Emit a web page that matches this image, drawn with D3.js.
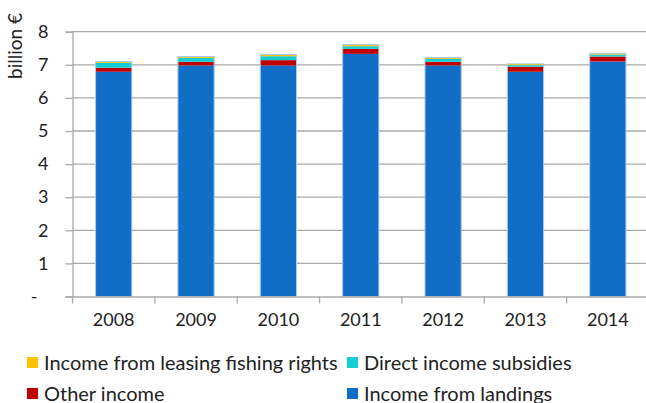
<!DOCTYPE html>
<html>
<head>
<meta charset="utf-8">
<script src="https://cdn.jsdelivr.net/npm/d3@7"></script>
<style>
  body { margin: 0; background: #fff; }
  text { font-family: Lato, "Open Sans", sans-serif; fill: #222; }
</style>
</head>
<body>
<svg width="646" height="403"></svg>
<script>
const years = ['2008', '2009', '2010', '2011', '2012', '2013', '2014']
const landings = [6.79, 6.98, 6.98, 7.33, 6.98, 6.79, 7.10]
const other = [0.12, 0.11, 0.16, 0.15, 0.11, 0.15, 0.15]
const subsidies = [0.15, 0.12, 0.12, 0.08, 0.09, 0.05, 0.06]
const leasing = [0.04, 0.04, 0.05, 0.05, 0.04, 0.04, 0.04]
const yTicks = [0, 1, 2, 3, 4, 5, 6, 7, 8]

const seriesNames = ['Income from landings', 'Other income', 'Direct income subsidies', 'Income from leasing fishing rights']
const colors = ['#106ec6', '#c00000', '#17cdd4', '#ffc000']

const table = years.map((y, i) => ({
    year: y,
    [seriesNames[0]]: landings[i],
    [seriesNames[1]]: other[i],
    [seriesNames[2]]: subsidies[i],
    [seriesNames[3]]: leasing[i]
}))

const svg = d3.select('svg')
const axisColor = '#a9a9a9'

const x = d3.scaleBand()
    .domain(years)
    .range([72.5, 649])
    .paddingInner(0.56)
    .paddingOuter(0.28)

const y = d3.scaleLinear()
    .domain([0, 8])
    .range([296.5, 31.7])

// gridlines
svg.append('g')
    .selectAll('line')
    .data(yTicks.slice(1))
    .enter().append('line')
    .attr('x1', 72.5).attr('x2', 646)
    .attr('y1', d => y(d)).attr('y2', d => y(d))
    .attr('stroke', axisColor)
    .attr('stroke-width', 1.3)

const stack = d3.stack().keys(seriesNames)(table)

svg.append('g')
    .selectAll('g')
    .data(stack)
    .enter().append('g')
    .attr('fill', (d, i) => colors[i])
    .selectAll('rect')
    .data(d => d)
    .enter().append('rect')
    .attr('x', d => x(d.data.year))
    .attr('width', x.bandwidth())
    .attr('y', d => y(d[1]))
    .attr('height', d => y(d[0]) - y(d[1]))

// light bar edge
const totals = years.map((d, i) => landings[i] + other[i] + subsidies[i] + leasing[i])
svg.append('g')
    .selectAll('rect')
    .data(years)
    .enter().append('rect')
    .attr('x', d => x(d))
    .attr('width', x.bandwidth())
    .attr('y', (d, i) => y(totals[i]))
    .attr('height', (d, i) => y(0) - y(totals[i]))
    .attr('fill', 'none')
    .attr('stroke', '#a9cbee')
    .attr('stroke-width', 1)

// y axis
const yAxis = svg.append('g')
    .attr('transform', 'translate(72.5,0)')
    .call(d3.axisLeft(y).tickValues(yTicks).tickSize(7).tickPadding(17)
        .tickFormat(d => d === 0 ? '-' : d))
yAxis.select('.domain').attr('stroke', axisColor).attr('stroke-width', 1.3)
yAxis.selectAll('.tick line').attr('stroke', axisColor).attr('stroke-width', 1.3)
yAxis.selectAll('text').attr('font-size', 18).attr('fill', '#222')
    .style('font-family', 'Lato, sans-serif')
yAxis.selectAll('.tick text').filter(d => d === 0).attr('dx', -11)

// x axis
const xAxis = svg.append('g')
    .attr('transform', 'translate(0,296.5)')
    .call(d3.axisBottom(x).tickSize(0).tickPadding(17))
xAxis.select('.domain').attr('stroke', axisColor).attr('stroke-width', 1.3)
xAxis.selectAll('text').attr('font-size', 18).attr('fill', '#222')
    .style('font-family', 'Lato, sans-serif')
// tick marks at band boundaries
xAxis.selectAll('.bound')
    .data(years)
    .enter().append('line')
    .attr('x1', d => x(d) - x.step() * x.paddingInner() / 2)
    .attr('x2', d => x(d) - x.step() * x.paddingInner() / 2)
    .attr('y1', 0).attr('y2', 7)
    .attr('stroke', axisColor)
    .attr('stroke-width', 1.3)

svg.append('text')
    .attr('transform', 'translate(22,46) rotate(-90)')
    .attr('text-anchor', 'middle')
    .attr('font-size', 19)
    .text('billion €')

// legend
const legendItems = [
    { name: seriesNames[3], color: colors[3], lx: 27, ly: 362.5 },
    { name: seriesNames[2], color: colors[2], lx: 347, ly: 362.5 },
    { name: seriesNames[1], color: colors[1], lx: 27, ly: 393.5 },
    { name: seriesNames[0], color: colors[0], lx: 347, ly: 393.5 }
]
const legend = svg.append('g')
    .selectAll('g')
    .data(legendItems)
    .enter().append('g')
    .attr('transform', d => `translate(${d.lx},${d.ly})`)
legend.append('rect')
    .attr('x', 0).attr('y', -5.5)
    .attr('width', 11).attr('height', 11)
    .attr('fill', d => d.color)
legend.append('text')
    .attr('x', 17)
    .attr('dy', '0.35em')
    .attr('font-size', 20)
    .text(d => d.name)
</script>
</body>
</html>
